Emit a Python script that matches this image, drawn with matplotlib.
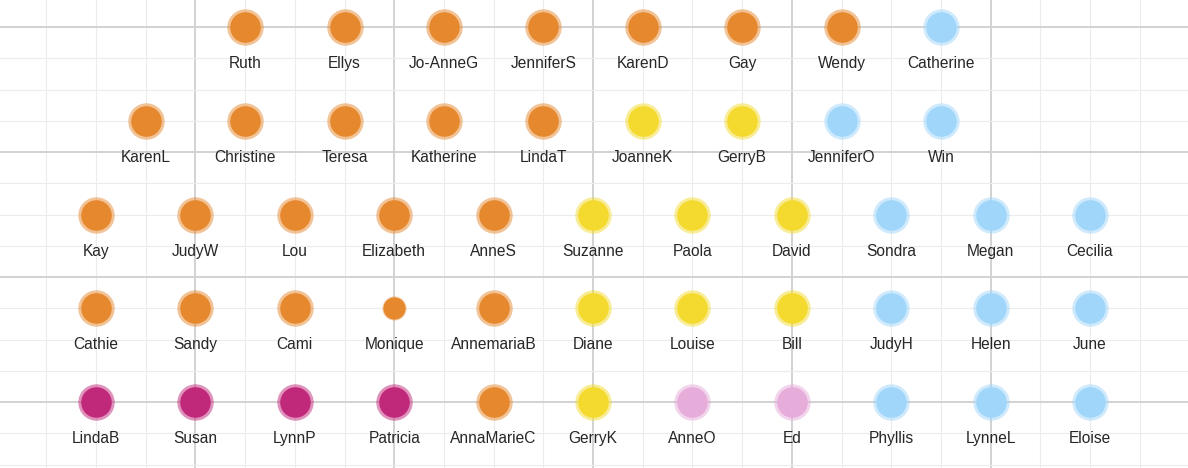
import numpy as np
import matplotlib
matplotlib.use("Agg")
import matplotlib.pyplot as plt
from matplotlib.colors import to_rgba

# ---------------------------------------------------------------------------
# data: one list of names / groups per row (top to bottom)
# ---------------------------------------------------------------------------
row1_names = ["Ruth", "Ellys", "Jo-AnneG", "JenniferS", "KarenD", "Gay", "Wendy", "Catherine"]
row1_groups = ["O", "O", "O", "O", "O", "O", "O", "B"]

row2_names = ["KarenL", "Christine", "Teresa", "Katherine", "LindaT", "JoanneK", "GerryB",
              "JenniferO", "Win"]
row2_groups = ["O", "O", "O", "O", "O", "Y", "Y", "B", "B"]

row3_names = ["Kay", "JudyW", "Lou", "Elizabeth", "AnneS", "Suzanne", "Paola", "David",
              "Sondra", "Megan", "Cecilia"]
row3_groups = ["O", "O", "O", "O", "O", "Y", "Y", "Y", "B", "B", "B"]

row4_names = ["Cathie", "Sandy", "Cami", "Monique", "AnnemariaB", "Diane", "Louise", "Bill",
              "JudyH", "Helen", "June"]
row4_groups = ["O", "O", "O", "O", "O", "Y", "Y", "Y", "B", "B", "B"]

row5_names = ["LindaB", "Susan", "LynnP", "Patricia", "AnnaMarieC", "GerryK", "AnneO", "Ed",
              "Phyllis", "LynneL", "Eloise"]
row5_groups = ["M", "M", "M", "M", "O", "Y", "P", "P", "B", "B", "B"]

small_names = ["Monique"]

rows = [row1_names, row2_names, row3_names, row4_names, row5_names]
groups = [row1_groups, row2_groups, row3_groups, row4_groups, row5_groups]
row_offset = [1.5, 0.5, 0.0, 0.0, 0.0]

colors = {"O": "#E6882E", "Y": "#F4DA2E", "B": "#A0D6FA",
          "M": "#C0287A", "P": "#E6ADDB"}

# ---------------------------------------------------------------------------
# figure
# ---------------------------------------------------------------------------
fig = plt.figure(figsize=(11.88, 4.68), dpi=100)
ax = fig.add_axes([0, 0, 1, 1])
ax.set_xlim(-0.966, 10.986)
ax.set_ylim(4.704, -0.288)
ax.axis("off")

# background grid: minor every 0.5 (x) / 1/3 (y), major every 2 / 4/3
for gx in np.arange(-1, 11.01, 0.5):
    major = abs((gx - 1) % 2) < 1e-6
    ax.axvline(gx, color="#d2d2d2" if major else "#ececec",
               lw=1.4 if major else 0.8, zorder=0)
for k in range(-1, 15):
    gy = k / 3
    major = k % 4 == 0
    ax.axhline(gy, color="#d2d2d2" if major else "#ececec",
               lw=1.4 if major else 0.8, zorder=0)

for r, (names, grp) in enumerate(zip(rows, groups)):
    for i, (name, g) in enumerate(zip(names, grp)):
        x = row_offset[r] + i
        c = colors[g]
        if name in small_names:
            ax.plot(x, r, "o", ms=16, mfc=c, mec=to_rgba(c, 0.35), mew=1.5, zorder=3)
        else:
            ax.plot(x, r, "o", ms=22, mfc=c, mec=to_rgba(c, 0.5), mew=4.2, zorder=3)
        ax.annotate(name, (x, r), xytext=(0, -26.3), textcoords="offset points",
                    ha="center", va="center", fontsize=11.2, color="#262626",
                    family="Liberation Sans", zorder=4)

fig.savefig("out.png", dpi=100)
